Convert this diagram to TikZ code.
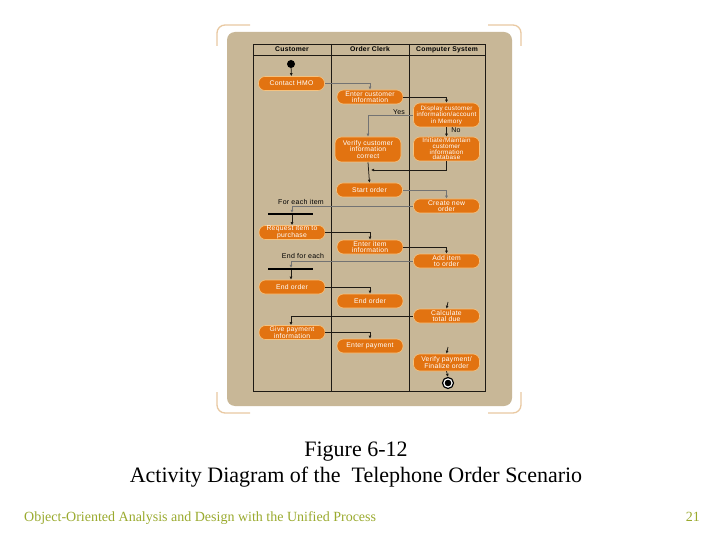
\documentclass[tikz,border=0pt]{standalone}
\usepackage{fontspec}
\setmainfont{Liberation Serif}
\newfontfamily\nf[LetterSpace=4]{Liberation Sans}
\usetikzlibrary{arrows.meta}
\definecolor{tan}{HTML}{C8B797}
\definecolor{bracket}{HTML}{E9C9A2}
\definecolor{actor}{HTML}{E27311}
\definecolor{actrim}{HTML}{F6C27E}
\definecolor{foot}{HTML}{9AAA2E}
\definecolor{lane}{HTML}{1E1A14}
\tikzset{
  act/.style={draw=actrim, line width=0.6pt, fill=actor, rounded corners=6.5pt,
    text=white, font=\nf\fontsize{6.8}{6.6}\selectfont, align=center,
    minimum width=66pt, minimum height=14pt, inner sep=0pt},
  flow/.style={draw=lane, line width=0.75pt, -{Latex[length=3pt,width=3pt]}},
  thinflow/.style={draw=black!55, line width=0.6pt, -{Latex[length=3pt,width=3pt]}},
  bar/.style={fill=black, draw=none, minimum width=45pt, minimum height=2pt, inner sep=0pt},
  lbl/.style={font=\nf\fontsize{7}{7}\selectfont, text=black, inner sep=0pt},
  hdr/.style={font=\nf\bfseries\fontsize{6.8}{6.8}\selectfont, text=black, inner sep=0pt, anchor=base},
  brk/.style={draw=bracket, line width=1.3pt, rounded corners=8pt}
}
\begin{document}
\begin{tikzpicture}[x=1pt,y=-1pt]
\useasboundingbox (0,0) rectangle (720,540);
\fill[white] (0,0) rectangle (720,540);
% brackets
\draw[brk] (250,25) -- (217,25) -- (217,46);
\draw[brk] (488,25) -- (521,25) -- (521,46);
\draw[brk] (217,392) -- (217,413) -- (250,413);
\draw[brk] (521,392) -- (521,413) -- (488,413);
% tan panel
\fill[tan, rounded corners=8pt] (227,32) rectangle (512,406);
% swimlanes
\draw[lane, line width=0.8pt] (253,44) rectangle (485,391);
\draw[lane, line width=0.8pt] (253,55) -- (485,55);
\draw[lane, line width=0.8pt] (331,44) -- (331,391);
\draw[lane, line width=0.8pt] (409,44) -- (409,391);
\node[hdr] (hc) at (292,52) {Customer};
\node[hdr] (ho) at (370,52) {Order Clerk};
\node[hdr] (hs) at (447,52) {Computer System};
% start
\node[circle, fill=black, minimum size=8pt, inner sep=0pt] (start) at (291,64) {};
% activities
\node[act] (hmo) at (291.5,83.5) {Contact HMO};
\node[act] (entcust) at (370,97) {Enter customer\\information};
\node[act, minimum height=24pt, font=\nf\fontsize{6.3}{6.6}\selectfont] (display) at (446.5,115) {Display customer\\information/account\\in Memory};
\node[act, minimum height=25pt] (verify) at (368,149.5) {Verify customer\\information\\correct};
\node[act, minimum height=24pt, font=\nf\fontsize{6.3}{5.8}\selectfont] (init) at (446.5,149) {Initiate/Maintain\\customer\\information\\database};
\node[act] (startord) at (369.5,190) {Start order};
\node[act] (create) at (446.5,206) {Create new\\order};
\node[act] (request) at (292,232.5) {Request item to\\purchase};
\node[act] (entitem) at (370,247) {Enter item\\information};
\node[act] (additem) at (446.5,261) {Add item\\to order};
\node[act] (end1) at (292,287) {End order};
\node[act] (end2) at (370,301) {End order};
\node[act] (calc) at (446.5,316) {Calculate\\total due};
\node[act] (give) at (292,332.5) {Give payment\\information};
\node[act] (entpay) at (370,346) {Enter payment};
\node[act, minimum height=17pt] (verpay) at (446.5,362.5) {Verify payment/\\Finalize order};
% bars
\node[bar] (fork) at (290.5,214) {};
\node[bar] (join) at (290.5,269) {};
% end node
\node[circle, draw=black, line width=1.2pt, fill=white, minimum size=11pt, inner sep=0pt] (fin) at (448,383) {};
\fill[black] (fin.center) circle (3.3pt);
% labels
\node[lbl] (yes) at (399,112) {Yes};
\node[lbl] (no) at (456,130.5) {No};
\node[lbl] (foreach) at (301,202) {For each item};
\node[lbl] (endeach) at (303,256) {End for each};
% coordinates
\coordinate (merge) at (371,170);
\coordinate (s1) at (448,302);
\coordinate (s2) at (448,347);
% connectors
\draw[flow] (start) -- (hmo);
\draw[thinflow] (hmo.east) -| (entcust.north);
\draw[flow] (entcust.east) -| (display.north);
\draw[thinflow] (display.west) -| (verify.north);
\draw[flow] (display.south) -- (init.north);
\draw[flow] (init.south) |- (merge);
\draw[flow] (verify.south) -- (startord.north);
\draw[thinflow] (startord.east) -| (create.north);
\draw[thinflow] (create.west) -| (fork.north -| 292,0);
\draw[flow] (fork.south -| 292,0) -- (request.north);
\draw[flow] (request.east) -| (entitem.north);
\draw[flow] (entitem.east) -| (additem.north);
\draw[thinflow] (additem.west) -| (join.north -| 291,0);
\draw[flow] (join.south -| 291,0) -- (end1.north -| 291,0);
\draw[flow] (end1.east) -| (end2.north);
\draw[flow] (s1) -- (calc.north);
\draw[flow] (calc.west) -| (give.north -| 291,0);
\draw[flow] (give.east) -| (entpay.north);
\draw[flow] (s2) -- (verpay.north);
\draw[flow] (verpay.south) -- (fin.north);
% caption
\node[font=\fontsize{22}{26}\selectfont, align=center, inner sep=0pt] (cap) at (356,465) {Figure 6-12\\Activity Diagram of the \ Telephone Order Scenario};
\node[font=\fontsize{14}{14}\selectfont, text=foot, anchor=base west, inner sep=0pt] (foottxt) at (24,521) {Object-Oriented Analysis and Design with the Unified Process};
\node[font=\fontsize{14}{14}\selectfont, text=foot, anchor=base east, inner sep=0pt] (page) at (700,521) {21};
\end{tikzpicture}
\end{document}
